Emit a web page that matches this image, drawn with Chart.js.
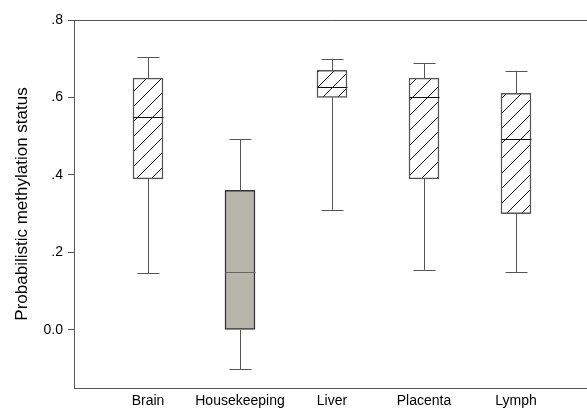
<!DOCTYPE html>
<html>
<head>
<meta charset="utf-8">
<script src="https://cdn.jsdelivr.net/npm/chart.js@4/dist/chart.umd.min.js"></script>
<style>
    body { margin: 0; background: #fff; }
    #wrap { width: 587px; height: 409px; }
</style>
</head>
<body>
<div id="wrap"><canvas id="boxChart" width="587" height="409"></canvas></div>
<script>
const categories = ['Brain', 'Housekeeping', 'Liver', 'Placenta', 'Lymph'];
const whiskerLow = [0.146, -0.101, 0.310, 0.155, 0.149];
const quart1 = [0.390, 0.000, 0.600, 0.390, 0.300];
const medians = [0.549, 0.149, 0.628, 0.600, 0.492];
const quart3 = [0.650, 0.360, 0.670, 0.650, 0.611];
const whiskerHigh = [0.704, 0.492, 0.700, 0.689, 0.669];
const yTicks = [0, 0.2, 0.4, 0.6, 0.8];
const hatched = [true, false, true, true, true];

function hatchPattern() {
    const c = document.createElement('canvas');
    c.width = 15; c.height = 15;
    const g = c.getContext('2d');
    g.fillStyle = '#fff';
    g.fillRect(0, 0, 15, 15);
    g.strokeStyle = '#111';
    g.lineWidth = 1;
    g.beginPath();
    g.moveTo(-1, 16); g.lineTo(16, -1);
    g.stroke();
    return g.createPattern(c, 'repeat');
}
const hatch = hatchPattern();

// whiskers, medians and the top frame line
const boxExtras = {
    id: 'boxExtras',
    afterDatasetsDraw(chart) {
        const ctx = chart.ctx;
        const x = chart.scales.x, y = chart.scales.y;
        const area = chart.chartArea;
        ctx.save();
        ctx.lineWidth = 1;
        ctx.strokeStyle = '#555';
        ctx.beginPath();
        ctx.moveTo(area.left, Math.round(area.top) + 0.5);
        ctx.lineTo(area.right, Math.round(area.top) + 0.5);
        ctx.stroke();
        for (let i = 0; i < categories.length; i++) {
            const cx = Math.round(x.getPixelForValue(i + 1)) + 0.5;
            const lo = y.getPixelForValue(whiskerLow[i]);
            const q1 = y.getPixelForValue(quart1[i]);
            const q3 = y.getPixelForValue(quart3[i]);
            const hi = y.getPixelForValue(whiskerHigh[i]);
            const med = Math.round(y.getPixelForValue(medians[i])) + 0.5;
            ctx.strokeStyle = '#555';
            ctx.beginPath();
            ctx.moveTo(cx, q3); ctx.lineTo(cx, hi);
            ctx.moveTo(cx - 11, Math.round(hi) + 0.5); ctx.lineTo(cx + 11, Math.round(hi) + 0.5);
            ctx.moveTo(cx, q1); ctx.lineTo(cx, lo);
            ctx.moveTo(cx - 11, Math.round(lo) + 0.5); ctx.lineTo(cx + 11, Math.round(lo) + 0.5);
            ctx.stroke();
            ctx.strokeStyle = hatched[i] ? '#111' : '#666';
            ctx.beginPath();
            ctx.moveTo(cx - 15, med); ctx.lineTo(cx + 15, med);
            ctx.stroke();
        }
        ctx.restore();
    }
};

new Chart(document.getElementById('boxChart'), {
    type: 'bar',
    data: {
        datasets: [{
            data: categories.map((c, i) => ({ x: i + 1, y: [quart1[i], quart3[i]] })),
            backgroundColor: hatched.map(h => h ? hatch : '#b6b6aa'),
            borderColor: hatched.map(h => h ? '#555' : '#333'),
            borderWidth: 1.5,
            borderSkipped: false,
            barThickness: 30
        }]
    },
    options: {
        responsive: false,
        animation: false,
        events: [],
        layout: { padding: { top: 20, right: 0, left: 0, bottom: 0 } },
        plugins: { legend: { display: false }, tooltip: { enabled: false } },
        scales: {
            x: {
                type: 'linear',
                offset: false,
                min: 0.1957,
                max: 5.772,
                afterBuildTicks: s => { s.ticks = categories.map((c, i) => ({ value: i + 1 })); },
                afterFit: s => { s.height = 21; },
                ticks: {
                    autoSkip: false,
                    maxRotation: 0,
                    padding: 5,
                    color: '#000',
                    font: { family: 'Liberation Sans, Arial', size: 14 },
                    callback: v => categories[v - 1]
                },
                grid: { display: false, drawTicks: false, offset: false },
                border: { display: true, color: '#555', width: 1 }
            },
            y: {
                min: -0.15,
                max: 0.8,
                afterBuildTicks: s => { s.ticks = yTicks.map(v => ({ value: v })); },
                afterFit: s => { s.width = 74; },
                ticks: {
                    padding: 5,
                    color: '#000',
                    font: { family: 'Liberation Sans, Arial', size: 14 },
                    callback: v => v === 0 ? '0.0' : v.toFixed(1).replace(/^0/, '')
                },
                grid: { drawOnChartArea: false, drawTicks: true, tickLength: 6, color: '#555' },
                border: { display: true, color: '#555', width: 1 },
                title: {
                    display: true,
                    text: 'Probabilistic methylation status',
                    color: '#000',
                    font: { family: 'Liberation Sans, Arial', size: 17 },
                    padding: { top: 12, bottom: 0 }
                }
            }
        }
    },
    plugins: [boxExtras]
});
</script>
</body>
</html>
